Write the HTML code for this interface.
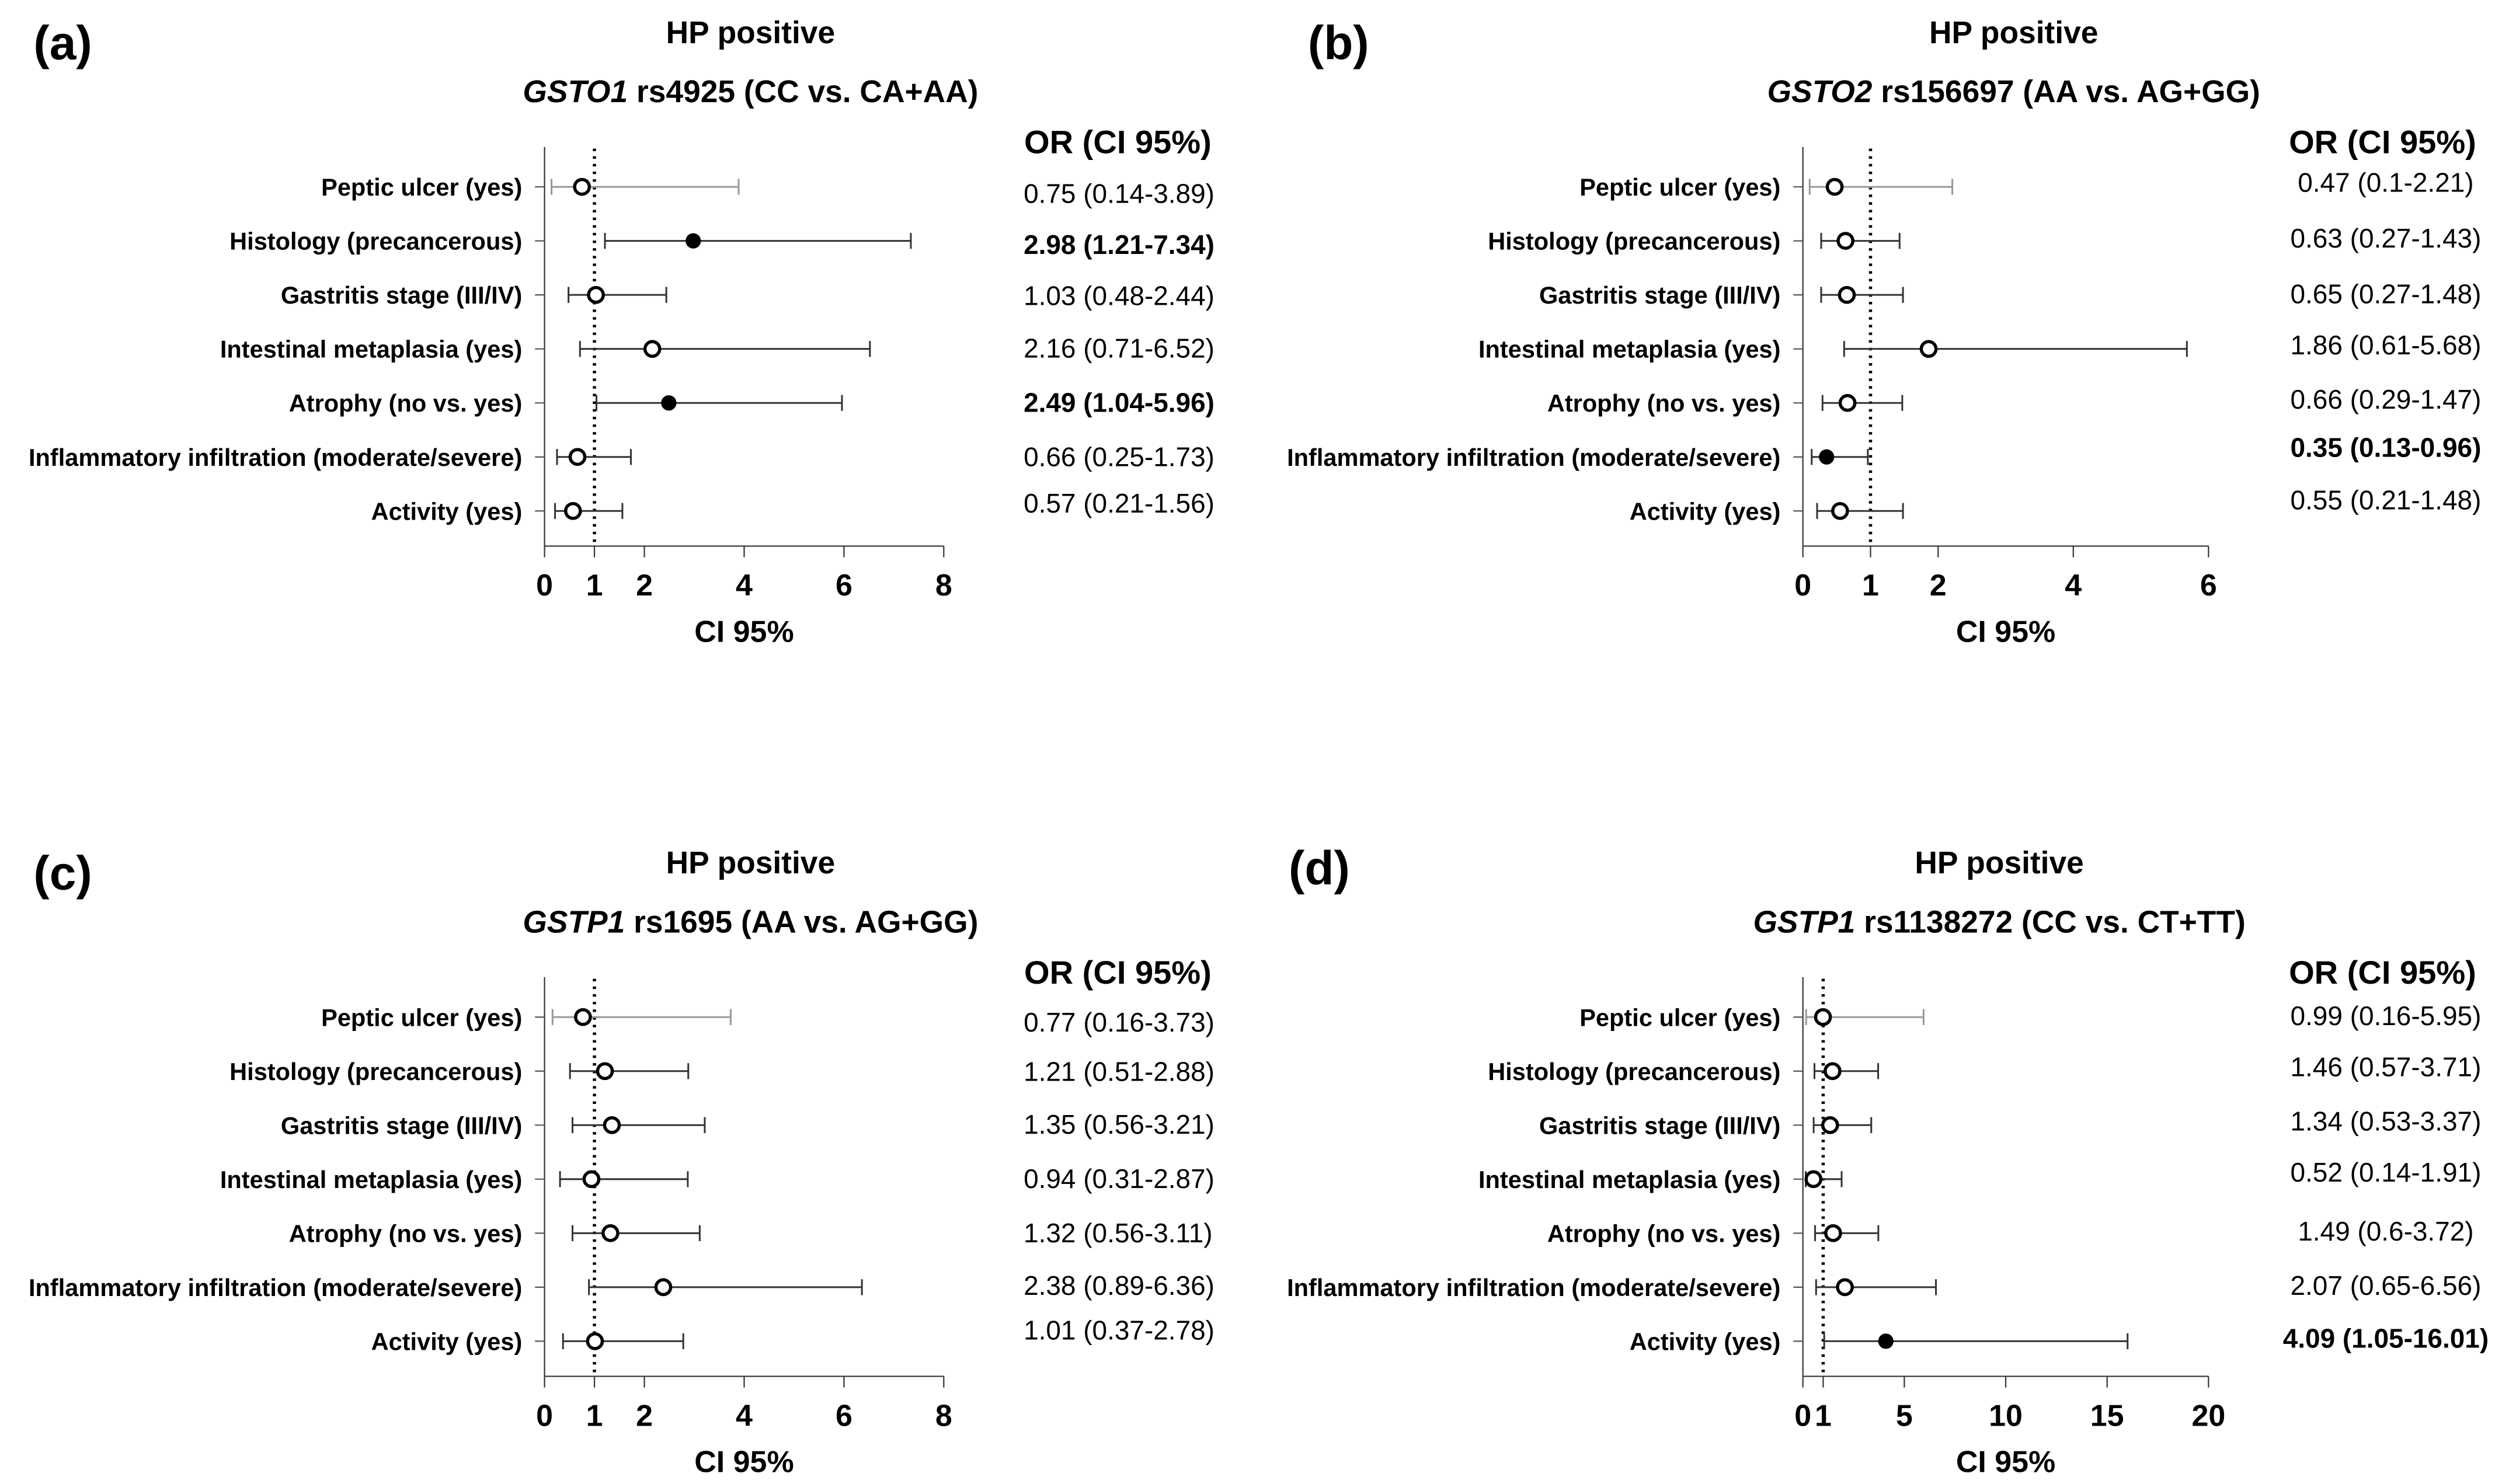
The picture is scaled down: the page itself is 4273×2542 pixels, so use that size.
<!DOCTYPE html>
<html><head><meta charset="utf-8"><style>
html,body{margin:0;padding:0;background:#fff;}
svg{display:block;font-family:"Liberation Sans",Arial,sans-serif;}
</style></head><body>
<svg id="fig" width="4273" height="2542" viewBox="0 0 1562.4 929.4" xmlns="http://www.w3.org/2000/svg">
<rect width="1562.4" height="929.4" fill="#fff"/>
</svg>
<script>
const categories = ["Peptic ulcer (yes)","Histology (precancerous)","Gastritis stage (III/IV)","Intestinal metaplasia (yes)","Atrophy (no vs. yes)","Inflammatory infiltration (moderate/severe)","Activity (yes)"];
const orA = [0.75,2.98,1.03,2.16,2.49,0.66,0.57];
const loA = [0.14,1.21,0.48,0.71,1.04,0.25,0.21];
const hiA = [3.89,7.34,2.44,6.52,5.96,1.73,1.56];
const sigA = [1,4];
const orB = [0.47,0.63,0.65,1.86,0.66,0.35,0.55];
const loB = [0.1,0.27,0.27,0.61,0.29,0.13,0.21];
const hiB = [2.21,1.43,1.48,5.68,1.47,0.96,1.48];
const sigB = [5];
const orC = [0.77,1.21,1.35,0.94,1.32,2.38,1.01];
const loC = [0.16,0.51,0.56,0.31,0.56,0.89,0.37];
const hiC = [3.73,2.88,3.21,2.87,3.11,6.36,2.78];
const sigC = [];
const orD = [0.99,1.46,1.34,0.52,1.49,2.07,4.09];
const loD = [0.16,0.57,0.53,0.14,0.6,0.65,1.05];
const hiD = [5.95,3.71,3.37,1.91,3.72,6.56,16.01];
const sigD = [6];
const ticksA = [0,1,2,4,6,8];
const ticksB = [0,1,2,4,6];
const ticksC = [0,1,2,4,6,8];
const ticksD = [0,1,5,10,15,20];

const NS="http://www.w3.org/2000/svg";
const svg=document.getElementById('fig');
function mk(tag,attrs,parent){const e=document.createElementNS(NS,tag);for(const k in attrs)e.setAttribute(k,attrs[k]);(parent||svg).appendChild(e);return e;}

function panel(cfg){
  const g=mk('g',{});
  
  
  const x0=cfg.x0,x1=cfg.x1,max=cfg.ticks[cfg.ticks.length-1];
  const sx=v=>x0+(v/max)*(x1-x0);
  const top=cfg.top,bot=cfg.top+250;
  let t=mk('text',{x:cfg.lx,y:cfg.ly,'font-size':30,'font-weight':'bold'},g);t.textContent='('+cfg.id+')';
  
  
  t=mk('text',{x:cfg.tx,y:cfg.top-65,'font-size':19.5,'font-weight':'bold','text-anchor':'middle'},g);t.textContent='HP positive';
  
  
  t=mk('text',{x:cfg.tx,y:cfg.top-28,'font-size':19.5,'font-weight':'bold','text-anchor':'middle'},g);
  
  
  const it=mk('tspan',{'font-style':'italic'},t);it.textContent=cfg.gene;
  const rs=mk('tspan',{},t);rs.textContent=' '+cfg.snp;
  t=mk('text',{x:cfg.ohx,y:cfg.top+4,'font-size':20.5,'font-weight':'bold','text-anchor':'middle'},g);t.textContent='OR (CI 95%)';
  
  
  let l=mk('line',{x1:x0,y1:top,x2:x0,y2:bot,stroke:'#333','stroke-width':0.8},g);
  
  
  l=mk('line',{x1:x0,y1:bot,x2:x1,y2:bot,stroke:'#333','stroke-width':0.8},g);
  
  
  cfg.ticks.forEach(v=>{
    const tk=mk('line',{x1:sx(v),y1:bot,x2:sx(v),y2:bot+7,stroke:'#333','stroke-width':0.8},g);
    
    
    const tl=mk('text',{x:sx(v),y:bot+31,'font-size':19,'font-weight':'bold','text-anchor':'middle'},g);tl.textContent=v;
    
    
  });
  t=mk('text',{x:(x0+x1)/2,y:bot+60,'font-size':19,'font-weight':'bold','text-anchor':'middle'},g);t.textContent='CI 95%';
  
  
  l=mk('line',{x1:sx(1),y1:top+1,x2:sx(1),y2:bot,stroke:'#000','stroke-width':2,'stroke-dasharray':'1.6 3.2'},g);
  
  
  const step=(bot-22-(top+25))/6;
  categories.forEach((c,i)=>{
    const y=top+25+i*step;
    const tk=mk('line',{x1:x0-6,y1:y,x2:x0,y2:y,stroke:'#555','stroke-width':0.8},g);
    
    
    const lb=mk('text',{x:x0-14,y:y+5.5,'font-size':15.2,'font-weight':'bold','text-anchor':'end'},g);lb.textContent=c;
    
    
    const col=i===0?'#999':'#333';
    const lo=sx(cfg.lo[i]),hi=sx(cfg.hi[i]),m=sx(cfg.or[i]);
    const bar=mk('g',{},g);
    
    
    mk('line',{x1:lo,y1:y,x2:hi,y2:y,stroke:col,'stroke-width':1.1},bar);
    mk('line',{x1:lo,y1:y-5,x2:lo,y2:y+5,stroke:col,'stroke-width':1.1},bar);
    mk('line',{x1:hi,y1:y-5,x2:hi,y2:y+5,stroke:col,'stroke-width':1.1},bar);
    const sig=cfg.sig.includes(i);
    const pt=mk('circle',{cx:m,cy:y,r:sig?4.8:4.6,fill:sig?'#000':'#fff',stroke:'#000','stroke-width':sig?0:2},g);
    
    
    const vy=cfg.vy[i];
    const vt=mk('text',{x:cfg.vx,y:vy+6,'font-size':16.8,'font-weight':sig?'bold':'normal','text-anchor':cfg.va},g);
    vt.textContent=String(cfg.or[i])+' ('+cfg.lo[i]+'-'+cfg.hi[i]+')';
    
    
  });
}
panel({id:'a',lx:21,ly:37,tx:470,top:92,x0:341,x1:591,ticks:ticksA,or:orA,lo:loA,hi:hiA,sig:sigA,gene:'GSTO1',snp:'rs4925 (CC vs. CA+AA)',ohx:700,vx:641,va:'start',vy:[121,153,185,218,252,286,315]});
panel({id:'b',lx:819,ly:37,tx:1261,top:92,x0:1129,x1:1383,ticks:ticksB,or:orB,lo:loB,hi:hiB,sig:sigB,gene:'GSTO2',snp:'rs156697 (AA vs. AG+GG)',ohx:1492,vx:1494,va:'middle',vy:[114,149,184,216,250,280,313]});
panel({id:'c',lx:21,ly:557,tx:470,top:612,x0:341,x1:591,ticks:ticksC,or:orC,lo:loC,hi:hiC,sig:sigC,gene:'GSTP1',snp:'rs1695 (AA vs. AG+GG)',ohx:700,vx:641,va:'start',vy:[640,671,704,738,772,805,833]});
panel({id:'d',lx:807,ly:554,tx:1252,top:612,x0:1129,x1:1383,ticks:ticksD,or:orD,lo:loD,hi:hiD,sig:sigD,gene:'GSTP1',snp:'rs1138272 (CC vs. CT+TT)',ohx:1492,vx:1494,va:'middle',vy:[636,668,702,734,771,805,838]});
</script>
</body></html>
